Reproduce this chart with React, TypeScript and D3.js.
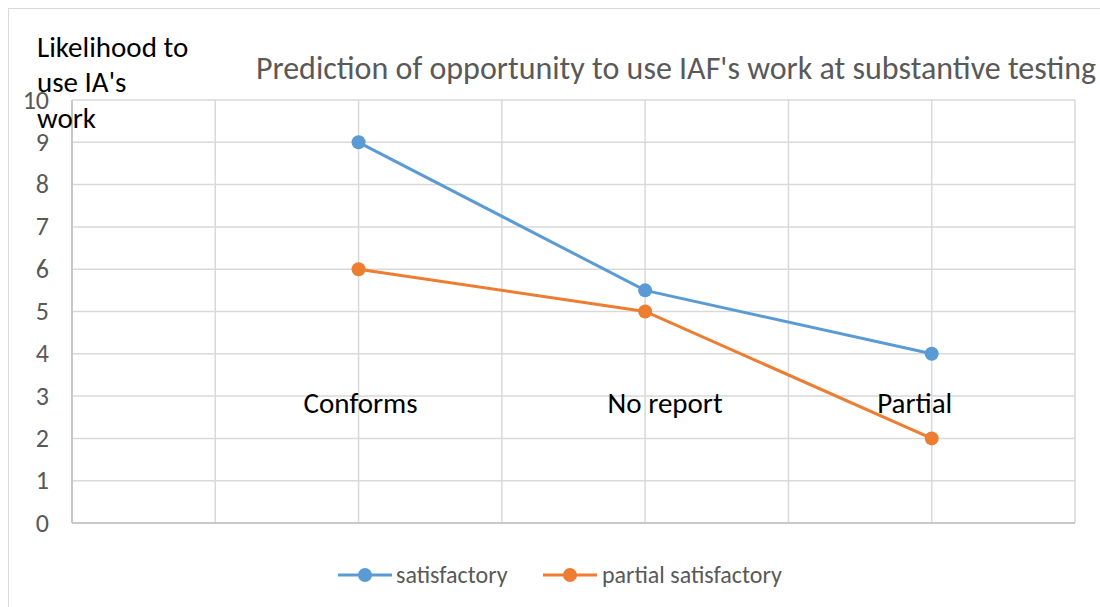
import React from "react";
import * as d3 from "d3";

const categories = ["Conforms", "No report", "Partial"];
const categoryX = [2, 4, 6];
const satisfactory = [9, 5.5, 4];
const partialSatisfactory = [6, 5, 2];
const yTicks = [0, 1, 2, 3, 4, 5, 6, 7, 8, 9, 10];
const xGrid = [0, 1, 2, 3, 4, 5, 6, 7];
const labelLevel = 3;
const seriesNames = ["satisfactory", "partial satisfactory"];
const colors = ["#5B9BD5", "#ED7D31"];

export default function App() {
  const W = 1100, H = 607;
  const x = d3.scaleLinear().domain([0, 7]).range([72, 1075]);
  const y = d3.scaleLinear().domain([0, 10]).range([523, 100]);
  const line = d3.line<number>().x((_, i) => x(categoryX[i])).y((d) => y(d));
  const series = [satisfactory, partialSatisfactory];
  const font = "Carlito, Calibri, 'Open Sans', sans-serif";
  const labelDx = [2, 20, -17];
  const legendItems = [
    { lx: 338, tx: 396 },
    { lx: 543, tx: 602 },
  ];
  return (
    <svg width={W} height={H} style={{ position: "absolute", left: 0, top: 0 }} fontFamily={font}>
      <rect x={0} y={0} width={W} height={H} fill="#fff" />
      <line x1={8} y1={8.5} x2={W} y2={8.5} stroke="#d9d9d9" />
      <line x1={8.5} y1={8} x2={8.5} y2={H} stroke="#d9d9d9" />
      {yTicks.map((t) => (
        <line key={"h" + t} x1={x(0)} x2={x(7)} y1={y(t)} y2={y(t)} stroke="#d9d9d9" strokeWidth={1.5} />
      ))}
      {xGrid.map((t) => (
        <line key={"v" + t} x1={x(t)} x2={x(t)} y1={y(0)} y2={y(10)} stroke="#d9d9d9" strokeWidth={1.5} />
      ))}
      <line x1={x(0)} x2={x(7)} y1={y(0)} y2={y(0)} stroke="#bfbfbf" strokeWidth={1.5} />
      <line x1={x(0)} x2={x(0)} y1={y(0)} y2={y(10)} stroke="#bfbfbf" strokeWidth={1.5} />
      {yTicks.map((t) => (
        <text key={"l" + t} x={49} y={y(t) + 8.5} textAnchor="end" fontSize={26} fill="#595959">{t}</text>
      ))}
      <text x={676} y={79} textAnchor="middle" fontSize={32} fill="#595959">
        Prediction of opportunity to use IAF's work at substantive testing
      </text>
      <g fontSize={29} fill="#000">
        <text x={37} y={57}>Likelihood to</text>
        <text x={37} y={92}>use IA's</text>
        <text x={37} y={128}>work</text>
      </g>
      {categories.map((c, i) => (
        <text key={c} x={x(categoryX[i]) + labelDx[i]} y={y(labelLevel) + 17} textAnchor="middle" fontSize={29} fill="#000">{c}</text>
      ))}
      {series.map((s, si) => (
        <g key={si}>
          <path d={line(s) || ""} fill="none" stroke={colors[si]} strokeWidth={3} />
          {s.map((v, i) => (
            <circle key={i} cx={x(categoryX[i])} cy={y(v)} r={7} fill={colors[si]} />
          ))}
        </g>
      ))}
      {legendItems.map((it, i) => (
        <g key={i}>
          <line x1={it.lx} x2={it.lx + 54} y1={575} y2={575} stroke={colors[i]} strokeWidth={3} />
          <circle cx={it.lx + 27} cy={575} r={7} fill={colors[i]} />
          <text x={it.tx} y={583} fontSize={24} fill="#595959">{seriesNames[i]}</text>
        </g>
      ))}
    </svg>
  );
}
